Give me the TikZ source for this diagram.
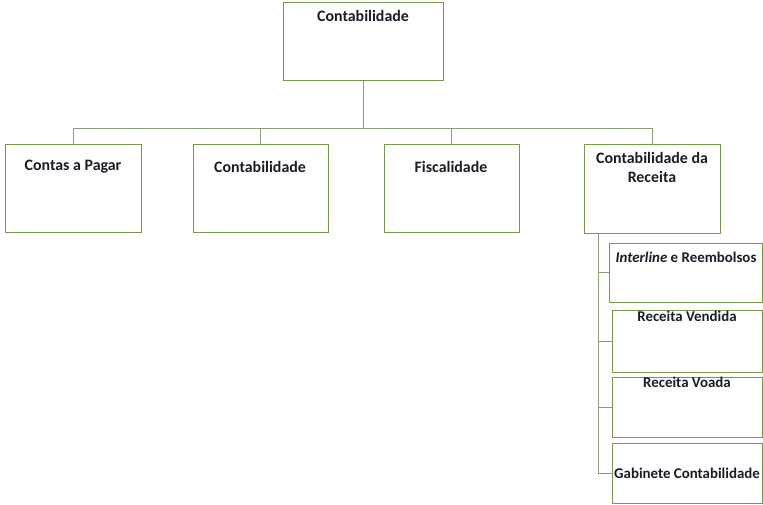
\documentclass[tikz,border=0pt]{standalone}
\usepackage{fontspec}
\setmainfont{Carlito}
\definecolor{boxgreen}{HTML}{76964A}
\definecolor{linkgreen}{HTML}{8A9E74}
\definecolor{txt}{HTML}{1C1C28}
\begin{document}
\begin{tikzpicture}[x=1pt,y=-1pt,
  box/.style={draw=boxgreen,line width=1pt,fill=white,inner sep=0pt},
  lbl/.style={text=txt,font=\bfseries\fontsize{15.9}{19}\selectfont,inner sep=0pt,align=center},
  sublbl/.style={lbl,font=\bfseries\fontsize{14.9}{18}\selectfont},
  link/.style={draw=linkgreen,line width=0.9pt}]
\useasboundingbox (0,0) rectangle (763,504);
% boxes
\node[box,minimum width=160pt,minimum height=78pt] (top) at (363,41) {};
\node[box,minimum width=136pt,minimum height=88pt] (b1) at (73,188) {};
\node[box,minimum width=135pt,minimum height=88pt] (b2) at (260.5,188) {};
\node[box,minimum width=135pt,minimum height=88pt] (b3) at (451.5,188) {};
\node[box,minimum width=136pt,minimum height=89pt] (b4) at (652,188.5) {};
\node[box,minimum width=153pt,minimum height=59pt] (s1) at (685.5,272.5) {};
\node[box,minimum width=150pt,minimum height=62pt] (s2) at (687,341) {};
\node[box,minimum width=150pt,minimum height=60pt] (s3) at (687,407) {};
\node[box,minimum width=150pt,minimum height=60pt] (s4) at (687,473) {};
% labels
\node[lbl] (ttop) at (363,16) {Contabilidade};
\node[lbl] (t1) at (73,167) {Contas a Pagar};
\node[lbl] (t2) at (260,167) {Contabilidade};
\node[lbl] (t3) at (451,167) {Fiscalidade};
\node[lbl] (t4) at (652,167.5) {Contabilidade da\\Receita};
\node[sublbl] (ts1) at (686,257) {\textit{Interline} e Reembolsos};
\node[sublbl] (ts2) at (687,316) {Receita Vendida};
\node[sublbl] (ts3) at (687,382) {Receita Voada};
\node[sublbl] (ts4) at (687,473) {Gabinete Contabilidade};
% connectors
\coordinate (bar) at (363,128);
\draw[link] (top.south) -- (bar);
\draw[link] (b1.north) |- (bar);
\draw[link] (b2.north) |- (bar);
\draw[link] (b3.north) |- (bar);
\draw[link] (b4.north) |- (bar);
\coordinate (vtop) at (598,233);
\coordinate (vbot) at (598,473);
\draw[link] (vtop) -- (vbot);
\draw[link] (s1.west) -- (s1.west -| vtop);
\draw[link] (s2.west) -- (s2.west -| vtop);
\draw[link] (s3.west) -- (s3.west -| vtop);
\draw[link] (s4.west) -- (vbot);
\end{tikzpicture}
\end{document}
